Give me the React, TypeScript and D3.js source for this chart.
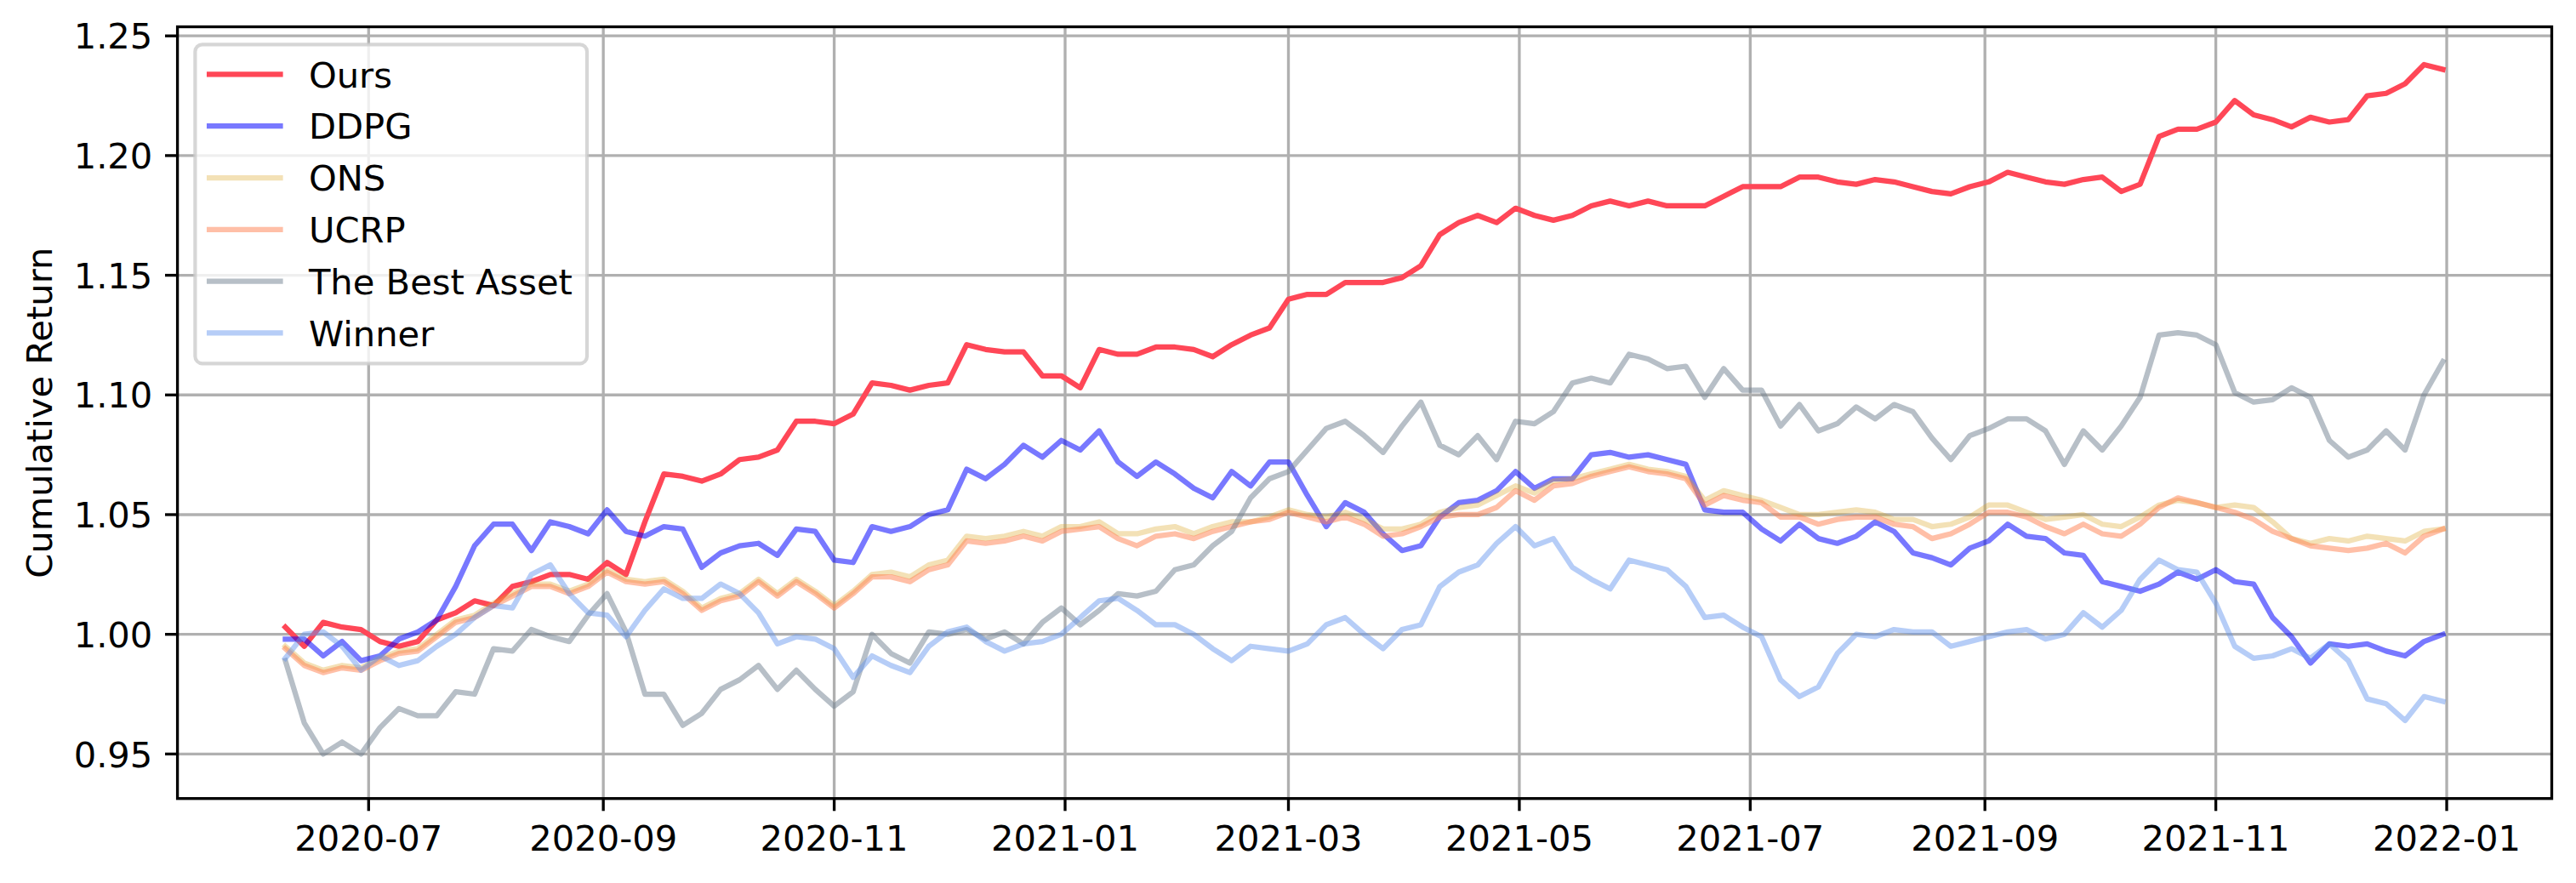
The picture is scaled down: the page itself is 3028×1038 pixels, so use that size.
import React from "react";
import * as d3 from "d3";

// ---------- data (sampled every 5 days) ----------
const DATES: string[] = [
  "2020-06-09","2020-06-14","2020-06-19","2020-06-24","2020-06-29",
  "2020-07-04","2020-07-09","2020-07-14","2020-07-19","2020-07-24","2020-07-29",
  "2020-08-03","2020-08-08","2020-08-13","2020-08-18","2020-08-23","2020-08-28",
  "2020-09-02","2020-09-07","2020-09-12","2020-09-17","2020-09-22","2020-09-27",
  "2020-10-02","2020-10-07","2020-10-12","2020-10-17","2020-10-22","2020-10-27",
  "2020-11-01","2020-11-06","2020-11-11","2020-11-16","2020-11-21","2020-11-26",
  "2020-12-01","2020-12-06","2020-12-11","2020-12-16","2020-12-21","2020-12-26","2020-12-31",
  "2021-01-05","2021-01-10","2021-01-15","2021-01-20","2021-01-25","2021-01-30",
  "2021-02-04","2021-02-09","2021-02-14","2021-02-19","2021-02-24",
  "2021-03-01","2021-03-06","2021-03-11","2021-03-16","2021-03-21","2021-03-26","2021-03-31",
  "2021-04-05","2021-04-10","2021-04-15","2021-04-20","2021-04-25","2021-04-30",
  "2021-05-05","2021-05-10","2021-05-15","2021-05-20","2021-05-25","2021-05-30",
  "2021-06-04","2021-06-09","2021-06-14","2021-06-19","2021-06-24","2021-06-29",
  "2021-07-04","2021-07-09","2021-07-14","2021-07-19","2021-07-24","2021-07-29",
  "2021-08-03","2021-08-08","2021-08-13","2021-08-18","2021-08-23","2021-08-28",
  "2021-09-02","2021-09-07","2021-09-12","2021-09-17","2021-09-22","2021-09-27",
  "2021-10-02","2021-10-07","2021-10-12","2021-10-17","2021-10-22","2021-10-27",
  "2021-11-01","2021-11-06","2021-11-11","2021-11-16","2021-11-21","2021-11-26",
  "2021-12-01","2021-12-06","2021-12-11","2021-12-16","2021-12-21","2021-12-26","2021-12-31",
];

const OURS = [
  1.003,0.995,1.005,1.003,1.002,0.997,0.995,0.997,1.006,1.009,
  1.014,1.012,1.020,1.022,1.025,1.025,1.023,1.030,1.025,1.047,
  1.067,1.066,1.064,1.067,1.073,1.074,1.077,1.089,1.089,1.088,
  1.092,1.105,1.104,1.102,1.104,1.105,1.121,1.119,1.118,1.118,
  1.108,1.108,1.103,1.119,1.117,1.117,1.120,1.120,1.119,1.116,
  1.121,1.125,1.128,1.140,1.142,1.142,1.147,1.147,1.147,1.149,
  1.154,1.167,1.172,1.175,1.172,1.178,1.175,1.173,1.175,1.179,
  1.181,1.179,1.181,1.179,1.179,1.179,1.183,1.187,1.187,1.187,
  1.191,1.191,1.189,1.188,1.190,1.189,1.187,1.185,1.184,1.187,
  1.189,1.193,1.191,1.189,1.188,1.190,1.191,1.185,1.188,1.208,
  1.211,1.211,1.214,1.223,1.217,1.215,1.212,1.216,1.214,1.215,
  1.225,1.226,1.230,1.238,1.236,
];

const DDPG = [
  0.998,0.998,0.991,0.997,0.989,0.991,0.998,1.001,1.006,1.020,
  1.037,1.046,1.046,1.035,1.047,1.045,1.042,1.052,1.043,1.041,
  1.045,1.044,1.028,1.034,1.037,1.038,1.033,1.044,1.043,1.031,
  1.030,1.045,1.043,1.045,1.050,1.052,1.069,1.065,1.071,1.079,
  1.074,1.081,1.077,1.085,1.072,1.066,1.072,1.067,1.061,1.057,
  1.068,1.062,1.072,1.072,1.058,1.045,1.055,1.051,1.042,1.035,
  1.037,1.049,1.055,1.056,1.060,1.068,1.061,1.065,1.065,1.075,
  1.076,1.074,1.075,1.073,1.071,1.052,1.051,1.051,1.044,1.039,
  1.046,1.040,1.038,1.041,1.047,1.043,1.034,1.032,1.029,1.036,
  1.039,1.046,1.041,1.040,1.034,1.033,1.022,1.020,1.018,1.021,
  1.026,1.023,1.027,1.022,1.021,1.007,0.999,0.988,0.996,0.995,
  0.996,0.993,0.991,0.997,1.000,
];

const ONS = [
  0.995,0.988,0.985,0.987,0.986,0.990,0.993,0.994,1.000,1.006,
  1.008,1.013,1.017,1.021,1.021,1.018,1.021,1.027,1.023,1.022,
  1.023,1.018,1.011,1.015,1.017,1.023,1.017,1.023,1.018,1.012,
  1.018,1.025,1.026,1.024,1.029,1.031,1.041,1.040,1.041,1.043,
  1.041,1.045,1.045,1.047,1.042,1.042,1.044,1.045,1.042,1.045,
  1.047,1.047,1.049,1.052,1.050,1.049,1.051,1.048,1.044,1.044,
  1.046,1.051,1.053,1.054,1.058,1.062,1.059,1.064,1.065,1.067,
  1.069,1.071,1.069,1.068,1.066,1.056,1.060,1.058,1.056,1.053,
  1.050,1.050,1.051,1.052,1.051,1.048,1.048,1.045,1.046,1.049,
  1.054,1.054,1.051,1.048,1.049,1.050,1.046,1.045,1.049,1.054,
  1.056,1.055,1.053,1.054,1.053,1.047,1.040,1.038,1.040,1.039,
  1.041,1.040,1.039,1.043,1.044,
];

const UCRP = [
  0.994,0.987,0.984,0.986,0.985,0.989,0.992,0.993,0.999,1.005,
  1.007,1.012,1.016,1.020,1.020,1.017,1.020,1.026,1.022,1.021,
  1.022,1.017,1.010,1.014,1.016,1.022,1.016,1.022,1.017,1.011,
  1.017,1.024,1.024,1.022,1.027,1.029,1.039,1.038,1.039,1.041,
  1.039,1.043,1.044,1.045,1.040,1.037,1.041,1.042,1.040,1.043,
  1.045,1.047,1.048,1.051,1.049,1.047,1.049,1.046,1.041,1.042,
  1.045,1.049,1.050,1.050,1.053,1.060,1.056,1.062,1.063,1.066,
  1.068,1.070,1.068,1.067,1.065,1.054,1.058,1.056,1.055,1.049,
  1.049,1.046,1.048,1.049,1.049,1.046,1.045,1.040,1.042,1.046,
  1.051,1.051,1.049,1.045,1.042,1.046,1.042,1.041,1.046,1.053,
  1.057,1.055,1.053,1.051,1.048,1.043,1.040,1.037,1.036,1.035,
  1.036,1.038,1.034,1.041,1.044,
];

const BEST_ASSET = [
  0.989,0.963,0.950,0.955,0.950,0.961,0.969,0.966,0.966,0.976,
  0.975,0.994,0.993,1.002,0.999,0.997,1.008,1.017,1.001,0.975,
  0.975,0.962,0.967,0.977,0.981,0.987,0.977,0.985,0.977,0.970,
  0.976,1.000,0.992,0.988,1.001,1.000,1.002,0.998,1.001,0.996,
  1.005,1.011,1.004,1.010,1.017,1.016,1.018,1.027,1.029,1.037,
  1.043,1.057,1.065,1.068,1.077,1.086,1.089,1.083,1.076,1.087,
  1.097,1.079,1.075,1.083,1.073,1.089,1.088,1.093,1.105,1.107,
  1.105,1.117,1.115,1.111,1.112,1.099,1.111,1.102,1.102,1.087,
  1.096,1.085,1.088,1.095,1.090,1.096,1.093,1.082,1.073,1.083,
  1.086,1.090,1.090,1.085,1.071,1.085,1.077,1.087,1.099,1.125,
  1.126,1.125,1.121,1.101,1.097,1.098,1.103,1.099,1.081,1.074,
  1.077,1.085,1.077,1.100,1.114,
];

const WINNER = [
  0.990,1.000,1.001,0.995,0.985,0.991,0.987,0.989,0.995,1.000,
  1.007,1.012,1.011,1.025,1.029,1.017,1.009,1.008,0.999,1.010,
  1.019,1.015,1.015,1.021,1.017,1.009,0.996,0.999,0.998,0.994,
  0.982,0.991,0.987,0.984,0.995,1.001,1.003,0.997,0.993,0.996,
  0.997,1.000,1.007,1.014,1.015,1.010,1.004,1.004,1.000,0.994,
  0.989,0.995,0.994,0.993,0.996,1.004,1.007,1.000,0.994,1.002,
  1.004,1.020,1.026,1.029,1.038,1.045,1.037,1.040,1.028,1.023,
  1.019,1.031,1.029,1.027,1.020,1.007,1.008,1.003,0.999,0.981,
  0.974,0.978,0.992,1.000,0.999,1.002,1.001,1.001,0.995,0.997,
  0.999,1.001,1.002,0.998,1.000,1.009,1.003,1.010,1.023,1.031,
  1.027,1.026,1.013,0.995,0.990,0.991,0.994,0.990,0.996,0.989,
  0.973,0.971,0.964,0.974,0.972,
];

const SERIES_NAMES = ["Ours", "DDPG", "ONS", "UCRP", "The Best Asset", "Winner"];
const SERIES_VALUES = [OURS, DDPG, ONS, UCRP, BEST_ASSET, WINNER];
const SERIES_COLORS = ["#ff4757", "blue", "goldenrod", "coral", "slategray", "cornflowerblue"];
const SERIES_ALPHA = [1, 0.53, 0.33, 0.5, 0.5, 0.47];

const X_TICKS = ["2020-07-01","2020-09-01","2020-11-01","2021-01-01","2021-03-01","2021-05-01","2021-07-01","2021-09-01","2021-11-01","2022-01-01"];
const Y_TICKS = [0.95, 1.0, 1.05, 1.1, 1.15, 1.2, 1.25];
const Y_LABEL = "Cumulative Return";

// ---------- layout ----------
const W = 3028, H = 1038;
const PL = 208.6, PR = 2999.5, PT = 31.5, PB = 938.7;
const FS = 41.67;
const LW = 6.25;
const GW = 3.33;
const TICK = 14.6;
const FONT = "'DejaVu Sans', sans-serif";

const parse = d3.timeParse("%Y-%m-%d");

export default function App() {
  const x = d3.scaleTime()
    .domain([new Date(2020, 4, 11, 12), new Date(2022, 0, 28, 18)])
    .range([PL, PR]);
  const y = d3.scaleLinear().domain([0.9314, 1.2538]).range([PB, PT]);
  const dates = DATES.map((s) => parse(s) as Date);
  const fmt = d3.timeFormat("%Y-%m");
  const xt = X_TICKS.map((s) => parse(s) as Date);

  const line = d3.line<number>()
    .x((_, i) => x(dates[i]))
    .y((v) => y(v));

  const legX = 229.4, legY = 52.3, legW = 460.6, legH = 375;
  const row0 = 87.4, pitch = 60.8;

  return (
    <svg width={W} height={H} style={{ position: "absolute", left: 0, top: 0, background: "#fff" }}
      fontFamily={FONT}>
      <rect x={0} y={0} width={W} height={H} fill="#fff" />
      <defs>
        <clipPath id="plot"><rect x={PL} y={PT} width={PR - PL} height={PB - PT} /></clipPath>
      </defs>
      {/* grid */}
      <g stroke="#b0b0b0" strokeWidth={GW}>
        {xt.map((d, i) => (
          <line key={"gx" + i} x1={x(d)} x2={x(d)} y1={PT} y2={PB} />
        ))}
        {Y_TICKS.map((v, i) => (
          <line key={"gy" + i} x1={PL} x2={PR} y1={y(v)} y2={y(v)} />
        ))}
      </g>
      {/* series */}
      <g clipPath="url(#plot)" fill="none">
        {SERIES_VALUES.map((vals, i) => (
          <path key={i} d={line(vals) || ""} stroke={SERIES_COLORS[i]} strokeOpacity={SERIES_ALPHA[i]}
            strokeWidth={LW} strokeLinejoin="round" strokeLinecap="square" />
        ))}
      </g>
      {/* spines */}
      <rect x={PL} y={PT} width={PR - PL} height={PB - PT} fill="none" stroke="#000" strokeWidth={GW} />
      {/* ticks */}
      <g stroke="#000" strokeWidth={GW}>
        {xt.map((d, i) => (
          <line key={"tx" + i} x1={x(d)} x2={x(d)} y1={PB} y2={PB + TICK} />
        ))}
        {Y_TICKS.map((v, i) => (
          <line key={"ty" + i} x1={PL - TICK} x2={PL} y1={y(v)} y2={y(v)} />
        ))}
      </g>
      <g fontSize={FS} fill="#000">
        {xt.map((d, i) => (
          <text key={"lx" + i} x={x(d)} y={PB + 2 * TICK + 0.76 * FS} textAnchor="middle">{fmt(d)}</text>
        ))}
        {Y_TICKS.map((v, i) => (
          <text key={"ly" + i} x={PL - 2 * TICK} y={y(v) + 0.3645 * FS} textAnchor="end">{v.toFixed(2)}</text>
        ))}
        <text transform={`translate(61.2, ${(PT + PB) / 2}) rotate(-90)`} textAnchor="middle">{Y_LABEL}</text>
      </g>
      {/* legend */}
      <g>
        <rect x={legX} y={legY} width={legW} height={legH} rx={8.3} ry={8.3}
          fill="#fff" fillOpacity={0.8} stroke="#cccccc" strokeOpacity={0.8} strokeWidth={4.17} />
        {SERIES_NAMES.map((n, i) => {
          const cy = row0 + i * pitch;
          return (
            <g key={n}>
              <line x1={246.1} x2={329.5} y1={cy} y2={cy} stroke={SERIES_COLORS[i]} strokeOpacity={SERIES_ALPHA[i]}
                strokeWidth={LW} strokeLinecap="square" />
              <text x={362.9} y={cy + 0.3645 * FS} fontSize={FS} fill="#000">{n}</text>
            </g>
          );
        })}
      </g>
    </svg>
  );
}
